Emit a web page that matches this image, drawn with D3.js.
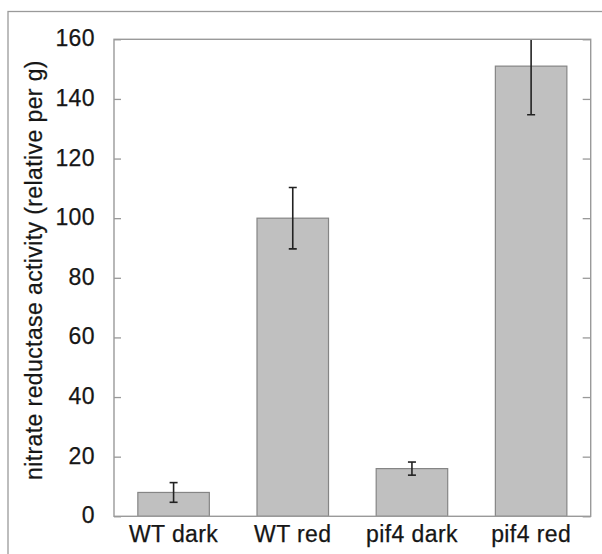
<!DOCTYPE html>
<html>
<head>
<meta charset="utf-8">
<script src="https://cdn.jsdelivr.net/npm/d3@7"></script>
<style>
  html, body { margin: 0; padding: 0; background: #fff; }
  svg { display: block; }
  text { font-family: "Liberation Sans", Arial, sans-serif; fill: #161616; stroke: #161616; stroke-width: 0.25px; }
</style>
</head>
<body>
<svg id="chart" width="602" height="554"></svg>
<script>
const categories = ["WT dark", "WT red", "pif4 dark", "pif4 red"];
const values = [8, 100, 16, 151];
const errors = [3.3, 10.3, 2.2, 16.3];
const yTicks = [0, 20, 40, 60, 80, 100, 120, 140, 160];
const yLabel = "nitrate reductase activity (relative per g)";

const W = 602, H = 554;
const plot = { left: 114, top: 39.3, right: 590.7, bottom: 516.3 };
const svg = d3.select("#chart");
const FS = "23px", LS = "0.4px";

// outer frame
svg.append("rect")
  .attr("x", 8).attr("y", 11.5)
  .attr("width", W + 10).attr("height", H + 10)
  .attr("fill", "none").attr("stroke", "#9a9a9a").attr("stroke-width", 1.3);

const x = d3.scaleBand().domain(categories)
  .range([plot.left, plot.right]).paddingInner(0.4).paddingOuter(0.2);
const y = d3.scaleLinear().domain([0, 160]).range([plot.bottom, plot.top]);

svg.append("defs").append("clipPath").attr("id", "clip")
  .append("rect").attr("x", plot.left).attr("y", plot.top)
  .attr("width", plot.right - plot.left).attr("height", plot.bottom - plot.top);

// bars
svg.append("g").selectAll("rect").data(values).join("rect")
  .attr("x", (d, i) => x(categories[i]))
  .attr("y", d => y(d))
  .attr("width", x.bandwidth())
  .attr("height", d => y(0) - y(d))
  .attr("fill", "#c0c0c0")
  .attr("stroke", "#858585").attr("stroke-width", 1.2);

// error bars
const eg = svg.append("g").attr("clip-path", "url(#clip)")
  .attr("stroke", "#222").attr("stroke-width", 1.6);
values.forEach((v, i) => {
  const cx = x(categories[i]) + x.bandwidth() / 2;
  const hi = y(v + errors[i]), lo = y(v - errors[i]);
  eg.append("line").attr("x1", cx).attr("x2", cx).attr("y1", hi).attr("y2", lo);
  eg.append("line").attr("x1", cx - 4).attr("x2", cx + 4).attr("y1", hi).attr("y2", hi);
  eg.append("line").attr("x1", cx - 4).attr("x2", cx + 4).attr("y1", lo).attr("y2", lo);
});

// left axis
const yAxis = svg.append("g").attr("transform", `translate(${plot.left},0)`)
  .call(d3.axisLeft(y).tickValues(yTicks).tickSize(-7).tickPadding(19).tickFormat(d3.format("d")));
yAxis.select(".domain").remove();
yAxis.selectAll(".tick line").attr("stroke", "#999").attr("stroke-width", 1.3);
yAxis.selectAll(".tick text")
  .style("font-size", FS).style("letter-spacing", LS)
  .attr("dy", "0.28em");

// right axis ticks
const yAxisR = svg.append("g").attr("transform", `translate(${plot.right},0)`)
  .call(d3.axisRight(y).tickValues(yTicks).tickSize(-8).tickFormat(""));
yAxisR.select(".domain").remove();
yAxisR.selectAll(".tick line").attr("stroke", "#999").attr("stroke-width", 1.3);

// plot box
svg.append("rect")
  .attr("x", plot.left).attr("y", plot.top)
  .attr("width", plot.right - plot.left).attr("height", plot.bottom - plot.top)
  .attr("fill", "none").attr("stroke", "#9a9a9a").attr("stroke-width", 1.4);

// bottom labels
const xAxis = svg.append("g").attr("transform", `translate(0,${plot.bottom})`)
  .call(d3.axisBottom(x).tickSize(0).tickPadding(0));
xAxis.select(".domain").remove();
xAxis.selectAll(".tick text")
  .attr("y", 26).attr("dy", 0)
  .style("font-size", FS).style("letter-spacing", LS);

// y label
svg.append("text")
  .attr("transform", "translate(41.5,270) rotate(-90)")
  .attr("text-anchor", "middle")
  .style("font-size", FS).style("letter-spacing", LS)
  .text(yLabel);
</script>
</body>
</html>
